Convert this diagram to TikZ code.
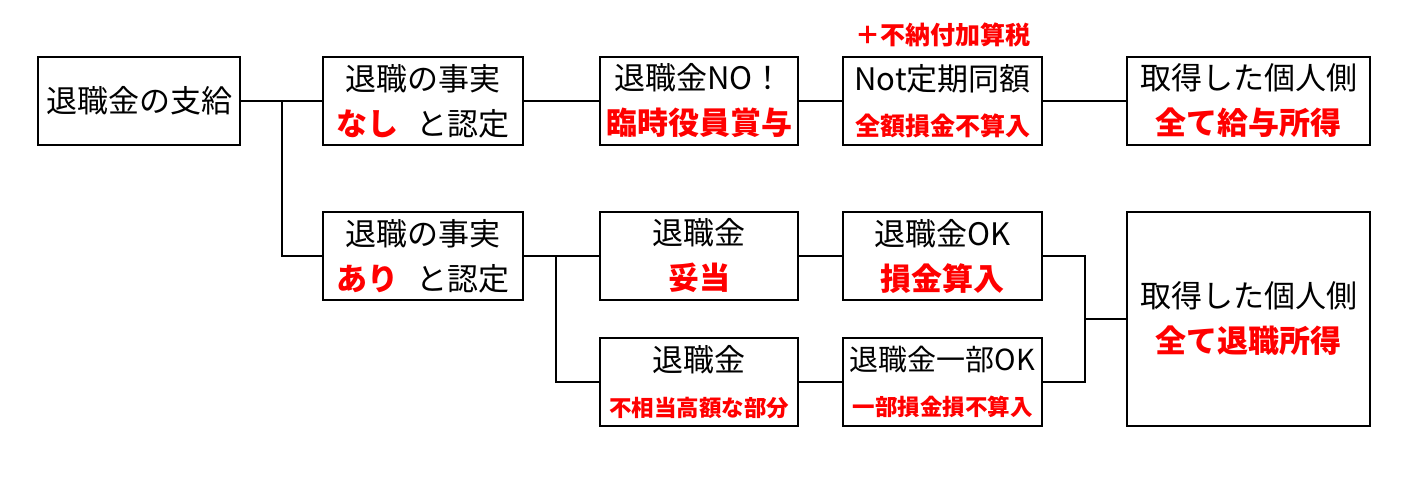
\documentclass[tikz,border=0pt]{standalone}
\usepackage{fontspec}
\newfontfamily\jp{Noto Sans CJK JP}
\usetikzlibrary{positioning, calc}
\definecolor{alert}{RGB}{255,0,0}
\newcommand{\hl}[1]{{\color{alert}\bfseries #1}}
\newcommand{\hlsmall}[2]{{\color{alert}\bfseries\fontsize{#1}{#1}\selectfont #2}}

\begin{document}
\begin{tikzpicture}[
        x=1pt, y=-1pt,
        node distance=45pt,
        stage/.style={rectangle, draw, line width=2.4pt, outer sep=0pt, minimum width=200pt, minimum height=88pt, inner sep=0pt, align=center, font=\jp\fontsize{31}{45}\selectfont},
        link/.style={line width=2pt}
    ]
    \useasboundingbox (0,0) rectangle (1423,479);

    \node (pay) [stage, minimum width=202pt] at (139,101) {退職金の支給};
    \node (none) [stage, right=83pt of pay] {退職の事実\\\hl{なし}\hspace{0.55em}と認定};
    \node (bonus) [stage, minimum width=198pt, right=77pt of none] {退職金NO！\\\hl{臨時役員賞与}};
    \node (notfixed) [stage, minimum width=199pt, right=of bonus] {Not定期同額\\\hlsmall{25}{全額損金不算入}};
    \node (tax) [above=10pt of notfixed, inner sep=0pt, font=\jp] {\hlsmall{25}{＋不納付加算税}};
    \node (salary) [stage, minimum width=243pt, right=85pt of notfixed] {取得した個人側\\\hl{全て給与所得}};

    \node (yes) [stage, below=67pt of none] {退職の事実\\\hl{あり}\hspace{0.55em}と認定};
    \node (fair) [stage, minimum width=198pt, right=77pt of yes] {退職金\\\hl{妥当}};
    \node (deduct) [stage, minimum width=199pt, right=of fair] {退職金OK\\\hl{損金算入}};
    \node (excess) [stage, minimum width=198pt, below=38pt of fair] {退職金\\\hlsmall{22.5}{不相当高額な部分}};
    \node (partial) [stage, minimum width=199pt, right=of excess] {{\fontsize{29}{45}\selectfont 退職金一部OK}\\\hlsmall{22.5}{一部損金損不算入}};
    \node (retire) [stage, minimum width=243pt, minimum height=214pt, below=67pt of salary] {取得した個人側\\\hl{全て退職所得}};

    % forks
    \coordinate (fork1) at ($(pay.east)+(42pt,0)$);
    \coordinate (fork2) at ($(yes.east)+(33pt,0)$);
    \coordinate (join) at ($(retire.west)+(-42pt,0)$);

    \draw [link] (pay) -- (none);
    \draw [link] (fork1) |- (yes);
    \draw [link] (none) -- (bonus);
    \draw [link] (bonus) -- (notfixed);
    \draw [link] (notfixed) -- (salary);

    \draw [link] (yes) -- (fair);
    \draw [link] (fork2) |- (excess);
    \draw [link] (fair) -- (deduct);
    \draw [link] (excess) -- (partial);
    \draw [link] (deduct) -| (join) |- (partial);
    \draw [link] (join) -- (retire);

\end{tikzpicture}
\end{document}
